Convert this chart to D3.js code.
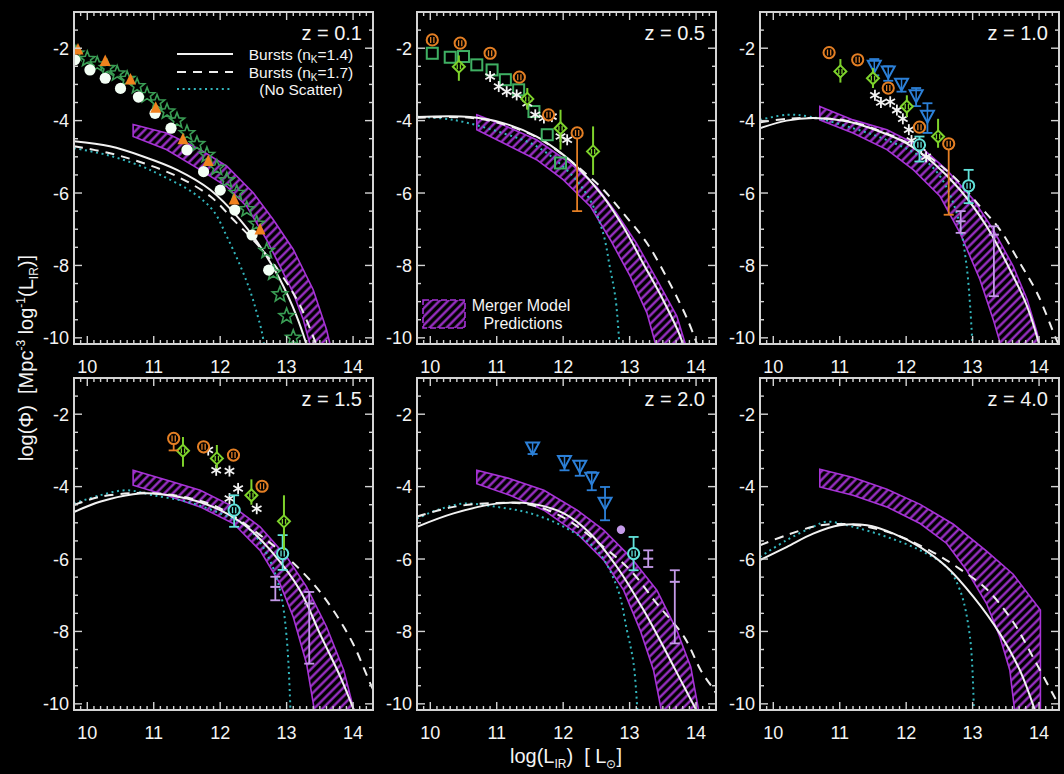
<!DOCTYPE html>
<html>
<head>
<meta charset="utf-8">
<script src="https://cdn.jsdelivr.net/npm/d3@7"></script>
<style>
html, body { margin: 0; padding: 0; background: #000; }
svg { display: block; }
text { font-family: "Liberation Sans", Arial, Helvetica, sans-serif; fill: #f4f4f4; white-space: pre; }
</style>
</head>
<body>
<svg id="chart" width="1064" height="774"></svg>
<script>
// ---------------------------------------------------------------
// Panel labels and axis ticks
// ---------------------------------------------------------------
const redshiftLabels = ["z = 0.1", "z = 0.5", "z = 1.0", "z = 1.5", "z = 2.0", "z = 4.0"];
const xTickValues = [10, 11, 12, 13, 14];
const yTickValues = [-2, -4, -6, -8, -10];

// ---------------------------------------------------------------
// Model curves, one list of [log L_IR, log Phi] per redshift panel
// ---------------------------------------------------------------
const burstSolid = [
  [[9.8,-4.57],[10.34,-4.71],[10.84,-4.99],[11.35,-5.36],[11.85,-5.91],[12.3,-6.74],[12.6,-7.47],[12.9,-8.39],[13.15,-9.4],[13.32,-10.3]],
  [[9.8,-3.9],[10.6,-3.9],[11.1,-4.07],[11.6,-4.44],[11.9,-4.8],[12.2,-5.26],[12.6,-6.09],[12.9,-6.92],[13.2,-7.93],[13.5,-8.94],[13.76,-9.95],[13.82,-10.3]],
  [[9.8,-4.21],[10.2,-4.0],[10.6,-3.93],[11.1,-4.02],[11.6,-4.3],[12.0,-4.62],[12.41,-5.17],[12.81,-5.91],[13.21,-6.92],[13.51,-7.93],[13.82,-9.13],[14.02,-10.3]],
  [[9.8,-4.7],[10.19,-4.42],[10.69,-4.21],[10.99,-4.19],[11.5,-4.33],[12.0,-4.65],[12.4,-5.11],[12.8,-5.85],[13.2,-6.86],[13.5,-8.06],[13.81,-9.26],[14.04,-10.3]],
  [[9.8,-5.11],[10.35,-4.74],[11.0,-4.47],[11.51,-4.47],[12.01,-4.74],[12.41,-5.3],[12.81,-6.22],[13.21,-7.41],[13.51,-8.43],[13.82,-9.53],[14.04,-10.3]],
  [[9.8,-6.03],[10.2,-5.67],[10.6,-5.3],[11.0,-5.07],[11.41,-5.07],[11.81,-5.3],[12.21,-5.67],[12.61,-6.22],[13.01,-7.04],[13.41,-8.06],[13.71,-9.07],[13.96,-10.3]]
];
const burstDashed = [
  [[9.8,-4.71],[10.34,-4.9],[10.84,-5.17],[11.35,-5.54],[11.85,-6.09],[12.2,-6.74],[12.6,-7.5],[12.9,-8.2],[13.2,-9.1],[13.47,-10.3]],
  [[9.8,-3.92],[10.6,-3.92],[11.1,-4.1],[11.6,-4.46],[12.0,-4.95],[12.3,-5.4],[12.6,-5.9],[12.9,-6.55],[13.26,-7.38],[13.6,-8.48],[13.87,-9.49],[14.04,-10.3]],
  [[9.8,-4.05],[10.2,-3.95],[10.6,-3.93],[11.1,-4.0],[11.6,-4.28],[12.1,-4.7],[12.71,-5.54],[13.11,-6.37],[13.41,-7.01],[13.71,-7.93],[13.97,-8.76],[14.25,-10.0],[14.35,-10.4]],
  [[9.8,-4.51],[10.19,-4.28],[10.69,-4.18],[11.0,-4.18],[11.5,-4.3],[12.0,-4.6],[12.6,-5.34],[13.0,-5.94],[13.4,-6.68],[13.7,-7.41],[14.0,-8.34],[14.26,-9.44],[14.4,-10.0]],
  [[9.8,-4.83],[10.35,-4.56],[11.0,-4.45],[11.5,-4.5],[12.0,-4.85],[12.61,-5.67],[13.01,-6.31],[13.41,-7.23],[13.82,-8.15],[14.07,-9.07],[14.27,-9.62],[14.4,-10.0]],
  [[9.8,-5.62],[10.2,-5.34],[10.7,-5.07],[11.2,-5.05],[11.8,-5.3],[12.41,-5.82],[12.81,-6.28],[13.21,-6.83],[13.61,-7.74],[13.92,-8.75],[14.22,-9.77],[14.35,-10.2]]
];
const noScatter = [
  [[9.8,-4.76],[10.3,-4.95],[10.8,-5.25],[11.1,-5.5],[11.6,-6.0],[11.9,-6.5],[12.1,-7.2],[12.3,-8.0],[12.45,-8.7],[12.55,-9.3],[12.63,-9.86],[12.67,-10.3]],
  [[9.8,-3.89],[10.35,-3.98],[11.1,-4.35],[11.6,-4.71],[12.1,-5.45],[12.4,-6.18],[12.6,-7.1],[12.7,-8.02],[12.79,-8.94],[12.85,-10.3]],
  [[9.8,-3.98],[10.2,-3.84],[10.55,-3.89],[11.2,-4.21],[11.7,-4.53],[12.21,-4.99],[12.51,-5.54],[12.76,-6.55],[12.91,-8.02],[13.0,-10.3]],
  [[9.8,-4.47],[10.19,-4.24],[10.59,-4.1],[10.99,-4.24],[11.5,-4.42],[12.0,-4.74],[12.4,-5.11],[12.7,-5.85],[12.9,-6.86],[13.0,-8.15],[13.06,-10.3]],
  [[9.8,-4.88],[10.1,-4.65],[10.5,-4.47],[11.0,-4.56],[11.51,-4.74],[12.01,-5.11],[12.51,-5.76],[12.81,-6.77],[12.96,-7.97],[13.06,-8.89],[13.12,-10.3]],
  [[9.8,-5.94],[10.2,-5.48],[10.6,-5.11],[10.8,-4.97],[11.2,-5.11],[11.71,-5.39],[12.21,-5.76],[12.61,-6.22],[12.81,-6.86],[12.96,-8.15],[13.02,-10.3]]
];

// Merger model prediction band: upper and lower edges per panel
const mergerUpper = [
  [[10.69,-4.11],[11.19,-4.34],[11.7,-4.8],[12.1,-5.26],[12.5,-6.0],[12.8,-6.74],[13.1,-7.56],[13.4,-8.67],[13.6,-9.77],[13.67,-10.3]],
  [[10.7,-3.84],[11.1,-4.12],[11.6,-4.53],[12.1,-5.17],[12.5,-5.82],[12.8,-6.55],[13.1,-7.38],[13.41,-8.39],[13.71,-9.4],[13.86,-10.3]],
  [[10.7,-3.61],[11.2,-3.98],[11.71,-4.25],[12.21,-4.71],[12.61,-5.36],[13.01,-6.18],[13.31,-7.01],[13.61,-8.02],[13.82,-8.94],[13.97,-9.86],[14.02,-10.3]],
  [[10.69,-3.55],[11.19,-3.82],[11.7,-4.1],[12.2,-4.56],[12.6,-5.11],[13.0,-5.94],[13.3,-6.77],[13.6,-7.87],[13.86,-9.07],[14.03,-10.3]],
  [[10.7,-3.55],[11.2,-3.78],[11.71,-4.1],[12.21,-4.65],[12.61,-5.2],[13.01,-5.94],[13.41,-6.86],[13.71,-7.97],[13.92,-8.98],[14.05,-10.3]],
  [[10.7,-3.52],[11.2,-3.75],[11.71,-4.07],[12.21,-4.49],[12.71,-5.04],[13.21,-5.78],[13.61,-6.42],[14.02,-7.41],[14.02,-10.3]]
];
const mergerLower = [
  [[10.69,-4.44],[11.19,-4.8],[11.7,-5.36],[12.1,-5.82],[12.4,-6.37],[12.7,-7.29],[12.9,-8.02],[13.1,-8.76],[13.25,-9.49],[13.37,-10.3]],
  [[10.7,-4.25],[11.1,-4.62],[11.6,-5.08],[12.0,-5.63],[12.41,-6.37],[12.71,-7.29],[13.01,-8.3],[13.26,-9.31],[13.41,-10.3]],
  [[10.7,-3.98],[11.2,-4.34],[11.71,-4.8],[12.11,-5.36],[12.51,-6.09],[12.81,-7.1],[13.11,-8.39],[13.31,-9.49],[13.44,-10.3]],
  [[10.69,-3.96],[11.19,-4.24],[11.7,-4.56],[12.2,-5.02],[12.6,-5.76],[12.9,-6.68],[13.1,-7.6],[13.3,-8.89],[13.43,-10.3]],
  [[10.7,-3.92],[11.2,-4.24],[11.71,-4.65],[12.21,-5.3],[12.61,-6.03],[12.91,-6.86],[13.16,-7.97],[13.36,-9.07],[13.49,-10.3]],
  [[10.7,-4.01],[11.2,-4.24],[11.71,-4.56],[12.21,-5.02],[12.61,-5.57],[12.91,-6.31],[13.21,-7.23],[13.41,-8.15],[13.56,-9.07],[13.64,-10.3]]
];

// ---------------------------------------------------------------
// Observed luminosity functions: [panel, log L_IR, log Phi, low, high]
// ---------------------------------------------------------------
const localWhite = [
  [0,9.81,-2.32],[0,10.04,-2.6],[0,10.27,-2.83],[0,10.5,-3.11],[0,10.77,-3.35],[0,11.02,-3.8],[0,11.26,-4.21],
  [0,11.5,-4.81],[0,11.75,-5.41],[0,12.0,-5.92],[0,12.22,-6.47],[0,12.48,-7.16],[0,12.73,-8.13]
];
const localOrange = [
  [0,9.86,-2.05],[0,10.27,-2.37],[0,10.65,-2.88],[0,11.03,-3.66],[0,11.44,-4.53],[0,11.82,-5.13],[0,12.21,-6.19],[0,12.6,-7.02]
];
const localStars = [
  [0,9.83,-2.15],[0,10.0,-2.3],[0,10.15,-2.45],[0,10.3,-2.55],[0,10.45,-2.7],[0,10.6,-2.85],[0,10.75,-3.05],[0,10.9,-3.3],
  [0,11.05,-3.5],[0,11.2,-3.75],[0,11.35,-4.0],[0,11.5,-4.35],[0,11.65,-4.65],[0,11.8,-4.95],[0,11.95,-5.3],[0,12.1,-5.65],
  [0,12.25,-6.0],[0,12.4,-6.45],[0,12.55,-6.85],[0,12.7,-7.6],[0,12.8,-8.2],[0,12.9,-8.8],[0,13.0,-9.4],[0,13.1,-10.0]
];
const greenSquares = [
  [1,10.03,-2.14],[1,10.3,-2.25],[1,10.5,-2.23],[1,10.7,-2.46],[1,10.93,-2.6],[1,11.13,-2.87],[1,11.33,-3.15],[1,11.56,-3.75],[1,11.76,-4.39],[1,11.96,-5.17]
];
const orangeRings = [
  [1,10.03,-1.77],[1,10.45,-1.86],[1,10.9,-2.14],[1,11.34,-2.8],[1,11.78,-3.84],[1,12.21,-4.34,-6.5,-4.34],
  [2,10.84,-2.12],[2,11.27,-2.32],[2,11.73,-3.1],[2,12.2,-4.18],[2,12.64,-4.64,-6.6,-4.64],
  [3,11.3,-2.67,-3.0,-2.67],[3,11.75,-2.9],[3,12.2,-3.13],[3,12.63,-3.99]
];
const limeDiamonds = [
  [1,10.43,-2.51,-2.9,-2.2],[1,11.46,-3.4,-3.7,-3.1],[1,11.96,-4.21,-4.8,-3.7],[1,12.45,-4.85,-5.5,-4.16],
  [2,11.01,-2.64,-2.95,-2.3],[2,11.5,-2.83,-3.1,-2.55],[2,12.01,-3.61,-3.9,-3.3],[2,12.48,-4.44,-4.75,-3.95],
  [3,11.44,-3.01,-3.45,-2.63],[3,11.95,-3.22,-3.5,-2.85],[3,12.47,-4.24,-4.5,-3.8],[3,12.96,-4.96,-5.76,-4.24]
];
const blueTriangles = [
  [2,11.52,-2.51,-2.75,-2.3],[2,11.73,-2.67,-2.9,-2.5],[2,11.93,-3.01,-3.2,-2.85],[2,12.15,-3.33,-3.6,-3.1],[2,12.32,-3.89,-4.34,-3.52],
  [4,11.54,-2.95,-3.1,-2.8],[4,12.02,-3.32,-3.55,-3.15],[4,12.25,-3.45,-3.7,-3.3],[4,12.43,-3.78,-4.1,-3.6],[4,12.63,-4.47,-4.93,-4.01]
];
const cyanRings = [
  [2,12.2,-4.67,-5.13,-4.44],[2,12.94,-5.8,-6.28,-5.36],
  [3,12.21,-4.65,-5.11,-4.24],[3,12.94,-5.85,-6.3,-5.34],
  [4,13.06,-5.85,-6.31,-5.39]
];
const violetBars = [
  [2,12.82,-6.78,-7.1,-6.5],[2,13.32,-7.15,-8.85,-6.92],
  [3,12.83,-6.77,-7.14,-6.49],[3,13.34,-7.23,-8.89,-6.91],
  [4,13.28,-5.99,-6.22,-5.76],[4,13.68,-6.63,-8.33,-6.31]
];
const violetDots = [[4,12.87,-5.19,-5.3,-5.08]];
const whiteAsterisks = [
  [1,10.9,-2.78],[1,11.03,-3.06],[1,11.15,-3.2],[1,11.3,-3.29],[1,11.46,-3.52],[1,11.58,-3.84],[1,11.71,-3.93],[1,11.83,-3.89],[1,11.96,-4.44],[1,12.06,-4.53],
  [2,11.53,-3.3],[2,11.62,-3.5],[2,11.76,-3.48],[2,11.86,-3.71],[2,11.95,-3.95],[2,12.04,-4.25],[2,12.08,-4.55],[2,12.22,-4.75],[2,12.3,-5.0],
  [3,11.82,-2.99],[3,11.94,-3.55],[3,12.14,-3.57],[3,12.27,-4.05],[3,12.14,-4.33],[3,12.55,-4.61]
];

// ---------------------------------------------------------------
// Layout and colours
// ---------------------------------------------------------------
const panelW = 299, panelH = 332;
const colX = [74, 417, 760], rowY = [12, 378];
const FRAME = "#d4d4d4";
const HATCH = "#a733d6";
const C = {
  orange: "#e47f24", lime: "#7ed32c", blue: "#2c80d8", cyan: "#62e2da",
  violet: "#c49ae8", green: "#3fb063", star: "#3a9e55", tri: "#f0821e", dotted: "#33b6bd"
};

const svg = d3.select("#chart");
svg.append("rect").attr("width", 1064).attr("height", 774).attr("fill", "#000");

const x = d3.scaleLinear().domain([9.8, 14.3]).range([0, panelW]);
const y = d3.scaleLinear().domain([-10.17, -1.0]).range([panelH, 0]);

const defs = svg.append("defs");
const pat = defs.append("pattern").attr("id", "hatch")
  .attr("patternUnits", "userSpaceOnUse").attr("width", 6).attr("height", 6)
  .attr("patternTransform", "rotate(45)");
pat.append("line").attr("x1", 1.5).attr("y1", 0).attr("x2", 1.5).attr("y2", 6)
  .attr("stroke", HATCH).attr("stroke-width", 2.2);

const curveLine = d3.line().x(d => x(d[0])).y(d => y(d[1])).curve(d3.curveCatmullRom.alpha(0.5));
const bandLine = d3.line().x(d => x(d[0])).y(d => y(d[1]));

// ----- marker helpers -----
function errBar(g, cx, lo, hi, color, cap, w) {
  if (lo === undefined) return;
  g.append("line").attr("x1", cx).attr("x2", cx).attr("y1", y(lo)).attr("y2", y(hi))
    .attr("stroke", color).attr("stroke-width", w || 1.8);
  if (cap) {
    [lo, hi].forEach(v => g.append("line").attr("x1", cx - cap).attr("x2", cx + cap)
      .attr("y1", y(v)).attr("y2", y(v)).attr("stroke", color).attr("stroke-width", w || 1.8));
  }
}
function innerBars(g, cx, cy, color, h) {
  [-1.6, 1.6].forEach(o => g.append("line").attr("x1", cx + o).attr("x2", cx + o)
    .attr("y1", cy - h).attr("y2", cy + h).attr("stroke", color).attr("stroke-width", 1.3));
}
function ring(g, d, color, capped) {
  const cx = x(d[1]), cy = y(d[2]);
  errBar(g, cx, d[3], d[4], color, capped ? 5 : 0);
  g.append("circle").attr("cx", cx).attr("cy", cy).attr("r", 5.6)
    .attr("fill", "#000").attr("stroke", color).attr("stroke-width", 2);
  innerBars(g, cx, cy, color, 3);
}
function diamond(g, d) {
  const cx = x(d[1]), cy = y(d[2]);
  errBar(g, cx, d[3], d[4], C.lime, 0, 2);
  const s = 6;
  g.append("path").attr("d", `M${cx},${cy - s}L${cx + s},${cy}L${cx},${cy + s}L${cx - s},${cy}Z`)
    .attr("fill", "#000").attr("stroke", C.lime).attr("stroke-width", 2);
  innerBars(g, cx, cy, C.lime, 2.5);
}
function triangleDown(g, d) {
  const cx = x(d[1]), cy = y(d[2]);
  errBar(g, cx, d[3], d[4], C.blue, 5);
  g.append("path").attr("d", `M${cx - 6.5},${cy - 6}L${cx + 6.5},${cy - 6}L${cx},${cy + 6}Z`)
    .attr("fill", "#000").attr("stroke", C.blue).attr("stroke-width", 2);
  g.append("line").attr("x1", cx).attr("x2", cx).attr("y1", cy - 6).attr("y2", cy + 6)
    .attr("stroke", C.blue).attr("stroke-width", 1.5);
}
function violetBar(g, d) {
  const cx = x(d[1]), cy = y(d[2]);
  errBar(g, cx, d[3], d[4], C.violet, 5, 1.8);
  g.append("line").attr("x1", cx - 5).attr("x2", cx + 5).attr("y1", cy).attr("y2", cy)
    .attr("stroke", C.violet).attr("stroke-width", 2);
}
function violetDot(g, d) {
  const cx = x(d[1]), cy = y(d[2]);
  errBar(g, cx, d[3], d[4], C.violet, 0);
  g.append("circle").attr("cx", cx).attr("cy", cy).attr("r", 4.2).attr("fill", C.violet);
}
function asterisk(g, d) {
  const cx = x(d[1]), cy = y(d[2]), r = 5.5;
  [90, 30, 150].forEach(a => {
    const t = a * Math.PI / 180;
    g.append("line").attr("x1", cx - r * Math.cos(t)).attr("y1", cy - r * Math.sin(t))
      .attr("x2", cx + r * Math.cos(t)).attr("y2", cy + r * Math.sin(t))
      .attr("stroke", "#f4f4f4").attr("stroke-width", 1.8);
  });
}
function square(g, d) {
  const cx = x(d[1]), cy = y(d[2]);
  g.append("rect").attr("x", cx - 5.5).attr("y", cy - 5.5).attr("width", 11).attr("height", 11)
    .attr("fill", "none").attr("stroke", C.green).attr("stroke-width", 2);
}
function openStar(g, d) {
  const cx = x(d[1]), cy = y(d[2]);
  const pts = d3.range(10).map(k => {
    const r = k % 2 ? 3.4 : 8, t = -Math.PI / 2 + k * Math.PI / 5;
    return [cx + r * Math.cos(t), cy + r * Math.sin(t)];
  });
  g.append("path").attr("d", "M" + pts.join("L") + "Z")
    .attr("fill", "none").attr("stroke", C.star).attr("stroke-width", 1.6);
}
function whiteDot(g, d) {
  g.append("circle").attr("cx", x(d[1])).attr("cy", y(d[2])).attr("r", 5.6).attr("fill", "#f3fff5");
}
function triangleUp(g, d) {
  const cx = x(d[1]), cy = y(d[2]);
  g.append("path").attr("d", `M${cx},${cy - 7}L${cx + 5.5},${cy + 4.5}L${cx - 5.5},${cy + 4.5}Z`)
    .attr("fill", C.tri);
}

// ---------------------------------------------------------------
// Draw the six panels
// ---------------------------------------------------------------
redshiftLabels.forEach((label, i) => {
  const g = svg.append("g")
    .attr("transform", `translate(${colX[i % 3]},${rowY[Math.floor(i / 3)]})`);
  defs.append("clipPath").attr("id", "clip" + i)
    .append("rect").attr("width", panelW).attr("height", panelH);
  const plot = g.append("g").attr("clip-path", `url(#clip${i})`);

  // merger model band
  const poly = mergerUpper[i].concat(mergerLower[i].slice().reverse());
  plot.append("path").attr("d", bandLine(poly) + "Z")
    .attr("fill", "url(#hatch)").attr("stroke", HATCH).attr("stroke-width", 1.6);

  // burst model curves
  plot.append("path").attr("d", curveLine(noScatter[i])).attr("fill", "none")
    .attr("stroke", C.dotted).attr("stroke-width", 2).attr("stroke-dasharray", "2,3.6");
  plot.append("path").attr("d", curveLine(burstDashed[i])).attr("fill", "none")
    .attr("stroke", "#eeeeee").attr("stroke-width", 2).attr("stroke-dasharray", "9,7");
  plot.append("path").attr("d", curveLine(burstSolid[i])).attr("fill", "none")
    .attr("stroke", "#f2f2f2").attr("stroke-width", 2);

  // observations
  const sel = arr => arr.filter(d => d[0] === i);
  sel(localStars).forEach(d => openStar(plot, d));
  sel(localWhite).forEach(d => whiteDot(plot, d));
  sel(localOrange).forEach(d => triangleUp(plot, d));
  sel(greenSquares).forEach(d => square(plot, d));
  sel(whiteAsterisks).forEach(d => asterisk(plot, d));
  sel(violetBars).forEach(d => violetBar(plot, d));
  sel(violetDots).forEach(d => violetDot(plot, d));
  sel(cyanRings).forEach(d => ring(plot, d, C.cyan, true));
  sel(blueTriangles).forEach(d => triangleDown(plot, d));
  sel(limeDiamonds).forEach(d => diamond(plot, d));
  sel(orangeRings).forEach(d => ring(plot, d, C.orange, true));

  // frame and inward ticks on all four sides
  g.append("rect").attr("width", panelW).attr("height", panelH)
    .attr("fill", "none").attr("stroke", FRAME).attr("stroke-width", 2);
  const ticks = g.append("g").attr("stroke", FRAME).attr("stroke-width", 1.4);
  d3.range(98, 143).map(v => v / 10).forEach(v => {
    const major = Math.abs(v - Math.round(v)) < 1e-6;
    const len = major ? 8 : 4;
    ticks.append("line").attr("x1", x(v)).attr("x2", x(v)).attr("y1", panelH).attr("y2", panelH - len);
    ticks.append("line").attr("x1", x(v)).attr("x2", x(v)).attr("y1", 0).attr("y2", len);
  });
  d3.range(-20, -2).map(v => v / 2).forEach(v => {
    const major = v % 2 === 0;
    const len = major ? 8 : 4;
    ticks.append("line").attr("y1", y(v)).attr("y2", y(v)).attr("x1", 0).attr("x2", len);
    ticks.append("line").attr("y1", y(v)).attr("y2", y(v)).attr("x1", panelW).attr("x2", panelW - len);
  });

  // tick labels
  g.selectAll(".yl").data(yTickValues).enter().append("text")
    .attr("x", -5).attr("y", v => y(v) + 6.5).attr("text-anchor", "end")
    .attr("font-size", 18).text(v => String(v));
  g.selectAll(".xl").data(xTickValues).enter().append("text")
    .attr("x", v => x(v)).attr("y", panelH + 29).attr("text-anchor", "middle")
    .attr("font-size", 18).text(v => String(v));

  // redshift label
  g.append("text").attr("x", panelW - 11).attr("y", 28).attr("text-anchor", "end")
    .attr("font-size", 20).text(label);
});

// ---------------------------------------------------------------
// Legends
// ---------------------------------------------------------------
const leg = svg.append("g");
const legendRows = [
  { y: 54, dash: null, color: "#f2f2f2", k: "1.4" },
  { y: 72, dash: "9,7", color: "#eeeeee", k: "1.7" },
  { y: 89, dash: "2,3.6", color: C.dotted, k: null }
];
legendRows.forEach(r => {
  leg.append("line").attr("x1", 177).attr("x2", 233).attr("y1", r.y).attr("y2", r.y)
    .attr("stroke", r.color).attr("stroke-width", 2.2).attr("stroke-dasharray", r.dash);
  const t = leg.append("text").attr("x", 301).attr("y", r.y + 5.5).attr("text-anchor", "middle").attr("font-size", 15.5);
  if (r.k) {
    t.append("tspan").text("Bursts (n");
    t.append("tspan").attr("dy", 3).attr("font-size", 10).text("K");
    t.append("tspan").attr("dy", -3).text("=" + r.k + ")");
  } else {
    t.text("(No Scatter)");
  }
});

// merger model legend box (in the z = 0.5 panel)
leg.append("rect").attr("x", 423).attr("y", 300).attr("width", 42).attr("height", 28)
  .attr("fill", "url(#hatch)").attr("stroke", HATCH).attr("stroke-width", 1.6).attr("stroke-dasharray", "6,3");
leg.append("text").attr("x", 521).attr("y", 311).attr("text-anchor", "middle").attr("font-size", 16).text("Merger Model");
leg.append("text").attr("x", 523).attr("y", 329).attr("text-anchor", "middle").attr("font-size", 16).text("Predictions");

// ---------------------------------------------------------------
// Axis titles
// ---------------------------------------------------------------
const xt = svg.append("text").attr("x", 566).attr("y", 763).attr("text-anchor", "middle").attr("font-size", 20);
xt.append("tspan").text("log(L");
xt.append("tspan").attr("dy", 5).attr("font-size", 12).text("IR");
xt.append("tspan").attr("dy", -5).text(")  [ L");
xt.append("tspan").attr("dy", 5).attr("font-size", 12).text("⊙");
xt.append("tspan").attr("dy", -5).text("]");

const yt = svg.append("text").attr("transform", "translate(33,358) rotate(-90)")
  .attr("text-anchor", "middle").attr("font-size", 20);
yt.append("tspan").text("log(Φ)  [Mpc");
yt.append("tspan").attr("dy", -8).attr("font-size", 12).text("-3");
yt.append("tspan").attr("dy", 8).text(" log");
yt.append("tspan").attr("dy", -8).attr("font-size", 12).text("-1");
yt.append("tspan").attr("dy", 8).text("(L");
yt.append("tspan").attr("dy", 5).attr("font-size", 12).text("IR");
yt.append("tspan").attr("dy", -5).text(")]");
</script>
</body>
</html>
